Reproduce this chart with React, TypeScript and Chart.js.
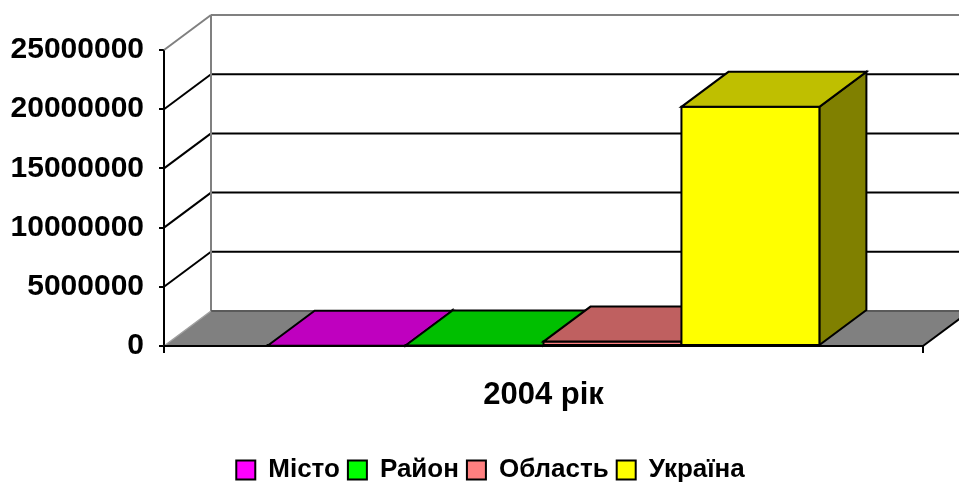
import { useEffect, useRef } from "react";
import { Chart, registerables } from "chart.js";

Chart.register(...registerables);

const categories = ["2004 рік"];
const seriesNames = ["Місто", "Район", "Область", "Україна"];
const seriesValues = [20000, 40000, 370000, 20200000];
const seriesColors = ["#FF00FF", "#00FF00", "#FF8080", "#FFFF00"];
const yMax = 25000000;
const yStep = 5000000;

const DEPTH_X = 47;
const DEPTH_Y = -35;
const LEGEND_SHIFT = 29;
const FONT = "Arial, 'Liberation Sans', sans-serif";

function shade(hex: string, f: number): string {
  const n = parseInt(hex.slice(1), 16);
  const r = Math.round(((n >> 16) & 255) * f);
  const g = Math.round(((n >> 8) & 255) * f);
  const b = Math.round((n & 255) * f);
  return `rgb(${r},${g},${b})`;
}

function poly(ctx: CanvasRenderingContext2D, pts: number[][], fill: string | null, stroke: string | null, lw = 2) {
  ctx.beginPath();
  ctx.moveTo(pts[0][0], pts[0][1]);
  for (let i = 1; i < pts.length; i++) ctx.lineTo(pts[i][0], pts[i][1]);
  ctx.closePath();
  if (fill) {
    ctx.fillStyle = fill;
    ctx.fill();
  }
  if (stroke) {
    ctx.strokeStyle = stroke;
    ctx.lineWidth = lw;
    ctx.stroke();
  }
}

function line(ctx: CanvasRenderingContext2D, x1: number, y1: number, x2: number, y2: number, color: string, lw = 2) {
  ctx.beginPath();
  ctx.moveTo(x1, y1);
  ctx.lineTo(x2, y2);
  ctx.strokeStyle = color;
  ctx.lineWidth = lw;
  ctx.stroke();
}

const threeD = {
  id: "threeD",
  afterLayout(chart: any) {
    const lg = chart.legend;
    if (lg) {
      lg.left += LEGEND_SHIFT;
      lg.right += LEGEND_SHIFT;
    }
  },
  beforeDatasetsDraw(chart: any) {
    const { ctx, chartArea } = chart;
    const { left, right, bottom } = chartArea;
    const ys = chart.scales.y;
    const dx = DEPTH_X;
    const dy = DEPTH_Y;
    ctx.save();
    ctx.lineJoin = "miter";
    ctx.lineCap = "butt";

    ys.ticks.forEach((t: any) => {
      const v = t.value;
      if (v === 0) return;
      const py = ys.getPixelForValue(v);
      const col = v >= yMax ? "#808080" : "#000000";
      line(ctx, left, py, left + dx, py + dy, col, 2);
      line(ctx, left + dx, py + dy, right + dx + 40, py + dy, col, 2);
    });
    const topPy = ys.getPixelForValue(yMax);
    line(ctx, left + dx, topPy + dy, left + dx, bottom + dy, "#808080", 2);

    poly(
      ctx,
      [
        [left, bottom],
        [right, bottom],
        [right + dx, bottom + dy],
        [left + dx, bottom + dy],
      ],
      "#808080",
      null
    );
    line(ctx, left + dx, bottom + dy, right + dx, bottom + dy, "#5a5a5a", 2);
    line(ctx, left, bottom, left + dx, bottom + dy, "#a0a0a0", 1.5);
    line(ctx, right, bottom, right + dx, bottom + dy, "#000000", 2);

    chart.data.datasets.forEach((ds: any, i: number) => {
      const meta = chart.getDatasetMeta(i);
      meta.data.forEach((el: any) => {
        const p = el.getProps(["x", "y", "base", "width"], true);
        const xl = p.x - p.width / 2;
        const xr = p.x + p.width / 2;
        const yt = p.y;
        const yb = p.base;
        const col = ds.backgroundColor as string;
        poly(ctx, [[xr, yt], [xr, yb], [xr + dx, yb + dy], [xr + dx, yt + dy]], shade(col, 0.5), "#000", 2);
        poly(ctx, [[xl, yt], [xr, yt], [xr, yb], [xl, yb]], col, "#000", 2);
        poly(ctx, [[xl, yt], [xr, yt], [xr + dx, yt + dy], [xl + dx, yt + dy]], shade(col, 0.75), "#000", 2);
      });
    });

    line(ctx, left, bottom, right, bottom, "#000", 2);
    ctx.restore();
    return false;
  },
};

export default function App() {
  const ref = useRef<HTMLCanvasElement | null>(null);

  useEffect(() => {
    document.body.style.margin = "0";
    const canvas = ref.current;
    if (!canvas) return;
    Chart.defaults.font.family = FONT;
    const chart = new Chart(canvas, {
      type: "bar",
      data: {
        labels: categories,
        datasets: seriesNames.map((name, i) => ({
          label: name,
          data: [seriesValues[i]],
          backgroundColor: seriesColors[i],
          borderColor: "#000000",
          borderWidth: 2,
          categoryPercentage: 0.727,
          barPercentage: 1,
        })),
      },
      options: {
        responsive: false,
        animation: false,
        devicePixelRatio: 1,
        layout: { padding: { top: 50, right: 36, left: 0, bottom: -9 } },
        plugins: {
          tooltip: { enabled: false },
          legend: {
            position: "bottom",
            labels: {
              color: "#000",
              font: { size: 26, weight: "bold", family: FONT },
              boxWidth: 19,
              boxHeight: 19,
              padding: 8,
            },
          },
        },
        scales: {
          x: {
            grid: { drawOnChartArea: false, drawTicks: true, tickLength: 7, color: "#000", lineWidth: 2 },
            border: { display: true, color: "#000", width: 2 },
            ticks: { color: "#000", font: { size: 31, weight: "bold", family: FONT }, padding: 24 },
            afterFit: (s: any) => {
              s.height = 103;
            },
          },
          y: {
            min: 0,
            max: yMax,
            ticks: {
              stepSize: yStep,
              color: "#000",
              font: { size: 30, weight: "bold", family: FONT },
              padding: 15,
              callback: (v: any) => String(v),
            },
            grid: { drawOnChartArea: false, drawTicks: true, tickLength: 5, color: "#000", lineWidth: 2 },
            border: { display: true, color: "#000", width: 2 },
            afterFit: (s: any) => {
              s.width = 164;
            },
          },
        },
      },
      plugins: [threeD],
    });
    return () => chart.destroy();
  }, []);

  return (
    <div style={{ width: 959, height: 484 }}>
      <canvas ref={ref} width={959} height={484} style={{ display: "block" }} />
    </div>
  );
}
